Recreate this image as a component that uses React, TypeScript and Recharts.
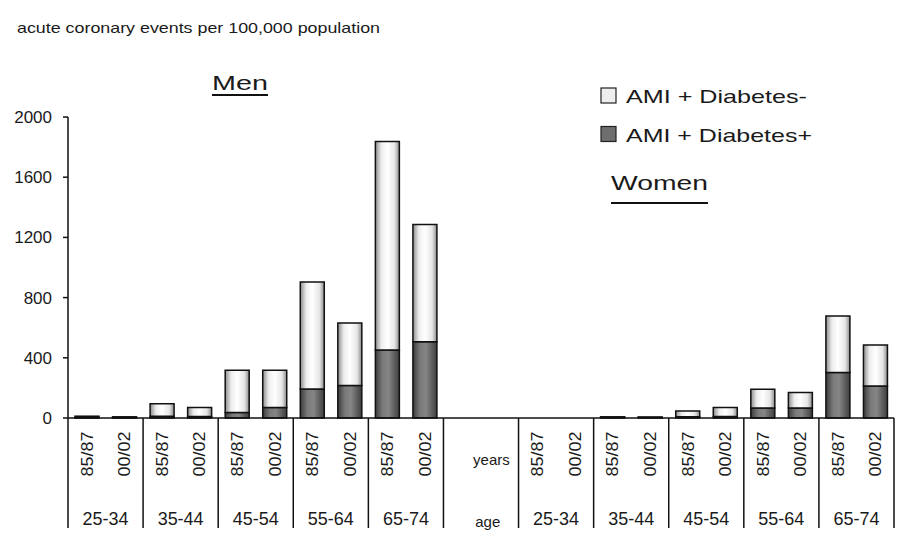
import React from "react"
import { BarChart, Bar, XAxis, YAxis } from "recharts"

const ageGroups = ["25-34", "35-44", "45-54", "55-64", "65-74"]
const periods = ["85/87", "00/02"]
const spacerLabels = ["years", "age"]

// values read per bar: 25-34 85/87, 25-34 00/02, 35-44 85/87, ...
const menDiabetesPos = [3, 2, 12, 10, 36, 69, 193, 216, 451, 507]
const menDiabetesNeg = [9, 6, 83, 59, 282, 249, 710, 415, 1387, 778]
const womenDiabetesPos = [0, 0, 4, 3, 8, 10, 67, 67, 302, 213]
const womenDiabetesNeg = [0, 0, 4, 4, 39, 59, 124, 102, 376, 272]

const yTicks = [0, 400, 800, 1200, 1600, 2000]

const W = 903
const H = 541
const LEFT = 68
const RIGHT = 9
const TOP = 117
const XAXIS_H = 123
const AXIS_Y = H - XAXIS_H

type Row = {
  key: string
  period: string
  age: string
  pos: number | null
  neg: number | null
  spacer?: boolean
}

const buildSex = (prefix: string, pos: number[], neg: number[]): Row[] =>
  pos.map((v, i) => ({
    key: prefix + i,
    period: periods[i % 2],
    age: ageGroups[Math.floor(i / 2)],
    pos: v,
    neg: neg[i],
  }))

const rows: Row[] = [
  ...buildSex("m", menDiabetesPos, menDiabetesNeg),
  { key: "s0", period: "", age: "", pos: null, neg: null, spacer: true },
  { key: "s1", period: spacerLabels[0], age: spacerLabels[1], pos: null, neg: null, spacer: true },
  ...buildSex("w", womenDiabetesPos, womenDiabetesNeg),
]

const BAND = (W - LEFT - RIGHT) / rows.length
const FONT = "'Liberation Sans', Arial, sans-serif"

const AgeTick = (props: any) => {
  const { x, payload } = props
  const i = payload.index
  const row = rows[i]
  const half = BAND / 2
  return (
    <g fontFamily={FONT} fill="#1a1a1a">
      {i % 2 === 0 && (
        <line x1={x - half} x2={x - half} y1={AXIS_Y} y2={528} stroke="#111" strokeWidth={1.5} />
      )}
      {i === rows.length - 1 && (
        <line x1={x + half} x2={x + half} y1={AXIS_Y} y2={528} stroke="#111" strokeWidth={1.5} />
      )}
      {row.spacer ? (
        row.period && (
          <>
            <text x={x + 10} y={465} textAnchor="end" fontSize={15}>
              {row.period}
            </text>
            <text x={x - 12} y={527} textAnchor="middle" fontSize={15}>
              {row.age}
            </text>
          </>
        )
      ) : (
        <>
          <text
            x={0}
            y={0}
            transform={`translate(${x + 6},454) rotate(-90)`}
            textAnchor="middle"
            fontSize={17}
            textLength={45}
            lengthAdjust="spacingAndGlyphs"
          >
            {row.period}
          </text>
          {i % 2 === 0 && (
            <text
              x={x + half}
              y={525}
              textAnchor="middle"
              fontSize={19}
              textLength={46}
              lengthAdjust="spacingAndGlyphs"
            >
              {row.age}
            </text>
          )}
        </>
      )}
    </g>
  )
}

const series = [
  { key: "neg", name: "AMI + Diabetes-", swatch: "#eeeeee", len: 181 },
  { key: "pos", name: "AMI + Diabetes+", swatch: "#6e6e6e", len: 186 },
]

export default function App() {
  return (
    <div style={{ position: "absolute", left: 0, top: 0, width: W, height: H, background: "#fff" }}>
      <BarChart
        width={W}
        height={H}
        data={rows}
        margin={{ top: TOP, right: RIGHT, left: 0, bottom: 0 }}
        barSize={24}
      >
        <defs>
          <linearGradient id="gLight" x1="0" y1="0" x2="1" y2="0">
            <stop offset="0%" stopColor="#8c8c8c" />
            <stop offset="25%" stopColor="#ededed" />
            <stop offset="50%" stopColor="#ffffff" />
            <stop offset="80%" stopColor="#e6e6e6" />
            <stop offset="100%" stopColor="#8c8c8c" />
          </linearGradient>
          <linearGradient id="gDark" x1="0" y1="0" x2="1" y2="0">
            <stop offset="0%" stopColor="#3c3c3c" />
            <stop offset="30%" stopColor="#7a7a7a" />
            <stop offset="55%" stopColor="#858585" />
            <stop offset="100%" stopColor="#3e3e3e" />
          </linearGradient>
        </defs>
        <text x={17} y={33} fontFamily={FONT} fontSize={15} fill="#1a1a1a" textLength={363} lengthAdjust="spacingAndGlyphs">
          acute coronary events per 100,000 population
        </text>
        <text x={212} y={90} fontFamily={FONT} fontSize={21} fill="#1a1a1a" textLength={56} lengthAdjust="spacingAndGlyphs">
          Men
        </text>
        <line x1={212} x2={268} y1={95} y2={95} stroke="#111" strokeWidth={2.2} />
        <text x={611} y={190} fontFamily={FONT} fontSize={21} fill="#1a1a1a" textLength={97} lengthAdjust="spacingAndGlyphs">
          Women
        </text>
        <line x1={611} x2={708} y1={203} y2={203} stroke="#111" strokeWidth={2.2} />
        <g>
          {series.map((s, i) => (
            <g key={s.key}>
              <rect x={601} y={88 + i * 38.5} width={15} height={15} fill={s.swatch} stroke="#222" strokeWidth={1.2} />
              <text
                x={626}
                y={103 + i * 38.5}
                fontFamily={FONT}
                fontSize={19}
                fill="#1a1a1a"
                textLength={s.len}
                lengthAdjust="spacingAndGlyphs"
              >
                {s.name}
              </text>
            </g>
          ))}
        </g>
        <XAxis
          dataKey="key"
          interval={0}
          height={XAXIS_H}
          tickLine={false}
          axisLine={{ stroke: "#111", strokeWidth: 1.5 }}
          tick={<AgeTick />}
        />
        <YAxis
          width={LEFT}
          domain={[0, 2000]}
          ticks={yTicks}
          tickSize={5}
          tickMargin={11}
          axisLine={{ stroke: "#111", strokeWidth: 1.5 }}
          tickLine={{ stroke: "#111", strokeWidth: 1.5 }}
          tick={{ fill: "#1a1a1a", fontSize: 17, fontFamily: FONT }}
        />
        <Bar dataKey="pos" stackId="a" name={series[1].name} fill="url(#gDark)" stroke="#111" strokeWidth={1.5} isAnimationActive={false} />
        <Bar dataKey="neg" stackId="a" name={series[0].name} fill="url(#gLight)" stroke="#111" strokeWidth={1.5} isAnimationActive={false} />
      </BarChart>
    </div>
  )
}
